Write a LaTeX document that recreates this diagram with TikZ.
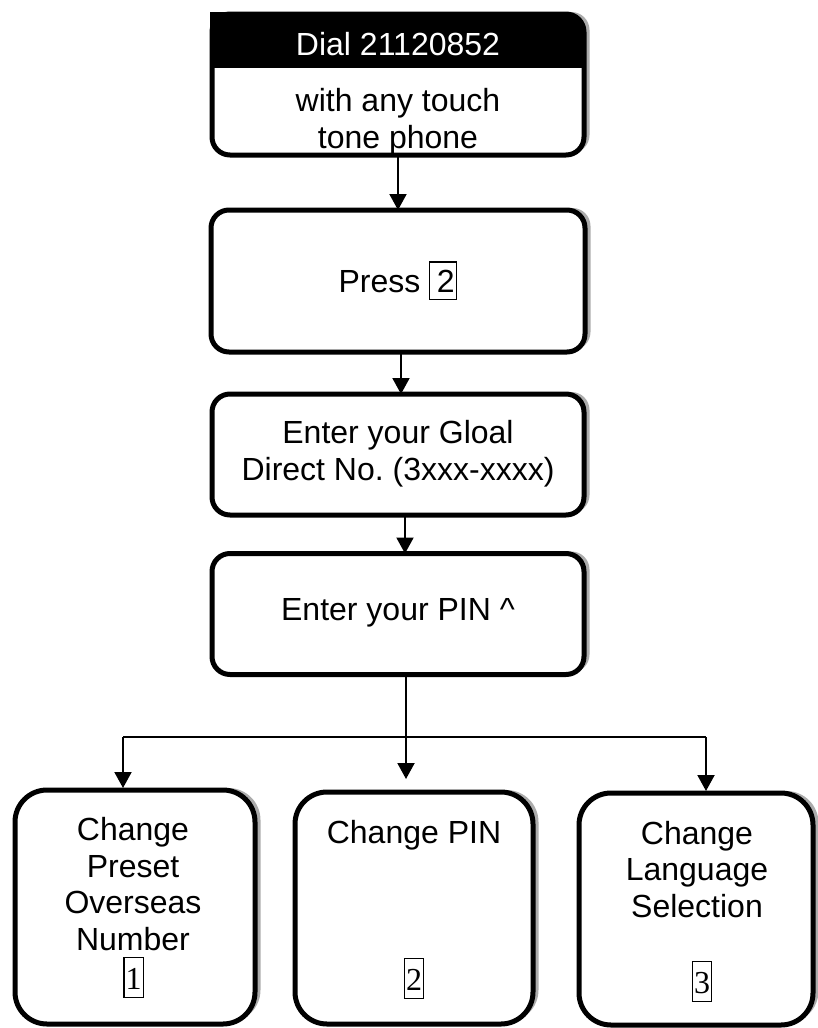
\documentclass[tikz,border=0pt]{standalone}
\usepackage{fontspec}
\setmainfont{Liberation Sans}
\newfontfamily\digitfont{Liberation Serif}
\usetikzlibrary{arrows.meta,shadows}
\frenchspacing

\newcommand{\keybox}[1]{\begingroup\setlength{\fboxsep}{1.5pt}\setlength{\fboxrule}{1.2pt}\fbox{\rule[-5pt]{0pt}{33pt}\hspace{5pt}#1}\endgroup}
\newcommand{\digitbox}[1]{\begingroup\setlength{\fboxsep}{1pt}\setlength{\fboxrule}{1.2pt}\fbox{\rule[-7pt]{0pt}{37pt}{\digitfont #1}}\endgroup}

\tikzset{every picture/.style={line width=0.75pt}}
\tikzset{
  stepbox/.style={draw, line width=5pt, rounded corners=18pt, fill=white, inner sep=0pt, outer sep=0pt,
    drop shadow={shadow xshift=5.5pt, shadow yshift=2pt, fill=gray!65, opacity=1}},
  choicebox/.style={stepbox, rounded corners=32pt},
  txt/.style={font=\fontsize{32}{36.5}\selectfont, align=center, inner sep=0pt},
  flow/.style={-{Triangle[width=17pt,length=16pt]}, line width=2pt},
  bar/.style={line width=1.5pt}
}

\begin{document}
\begin{tikzpicture}[x=1pt,y=1pt,yscale=-1,xscale=1]
    \useasboundingbox (0,0) rectangle (817,1028);

    % Dial box with black header
    \node[stepbox, minimum width=372pt, minimum height=141pt] (dial) at (398,84.5) {};
    \begin{scope}
      \clip[rounded corners=18pt] (dial.north west) rectangle (dial.south east);
      \fill (dial.north west) rectangle (586,68);
    \end{scope}
    \fill (209.5,11.5) rectangle (240,68);
    \node[txt, text=white, anchor=base] (dialtxt) at (398,55) {Dial 21120852};
    \node[txt, anchor=base] (dialsub) at (398,148) {with any touch\\tone phone};

    % Press box
    \node[stepbox, minimum width=374pt, minimum height=142pt] (press) at (398,281) {};
    \node[txt, anchor=base] (presstxt) at (398,292) {Press \keybox{2}};

    % Direct number box
    \node[stepbox, minimum width=372pt, minimum height=121pt] (enter) at (398,454.5) {};
    \node[txt, anchor=base] (entertxt) at (398,480) {Enter your Gloal\\Direct No. (3xxx-xxxx)};

    % PIN box
    \node[stepbox, minimum width=372pt, minimum height=121pt] (pin) at (398,614) {};
    \node[txt, anchor=base] (pintxt) at (398,620) {Enter your PIN \^{}};

    % Choice boxes
    \node[choicebox, minimum width=240pt, minimum height=234pt] (preset) at (135,907) {};
    \node[txt, anchor=base] (presettxt) at (133,950) {Change\\Preset\\Overseas\\Number};
    \node[txt, anchor=base] (presetkey) at (133.5,989) {\digitbox{1}};

    \node[choicebox, minimum width=238pt, minimum height=232pt] (chpin) at (414,908) {};
    \node[txt, anchor=base] (chpintxt) at (414,843) {Change PIN};
    \node[txt, anchor=base] (chpinkey) at (414,990) {\digitbox{2}};

    \node[choicebox, minimum width=234pt, minimum height=232pt] (lang) at (696,909) {};
    \node[txt, anchor=base] (langtxt) at (697,917) {Change\\Language\\Selection};
    \node[txt, anchor=base] (langkey) at (702,993) {\digitbox{3}};

    % Connectors
    \draw[flow] (dial.south) -- (press.north);
    \draw[flow] ([xshift=3pt]press.south) -- ([xshift=3pt]enter.north);
    \draw[flow] ([xshift=7pt]enter.south) -- ([xshift=7pt]pin.north);

    \coordinate (fork) at (406,737);
    \coordinate (forkL) at (123,737);
    \coordinate (forkR) at (706,737);
    \draw[flow, shorten >=13pt] (fork |- pin.south) -- (fork |- chpin.north);
    \draw[bar] (forkL) -- (forkR);
    \draw[flow, shorten >=2pt] (forkL) -- (forkL |- preset.north);
    \draw[flow, shorten >=2pt] (forkR) -- (forkR |- lang.north);
\end{tikzpicture}
\end{document}
